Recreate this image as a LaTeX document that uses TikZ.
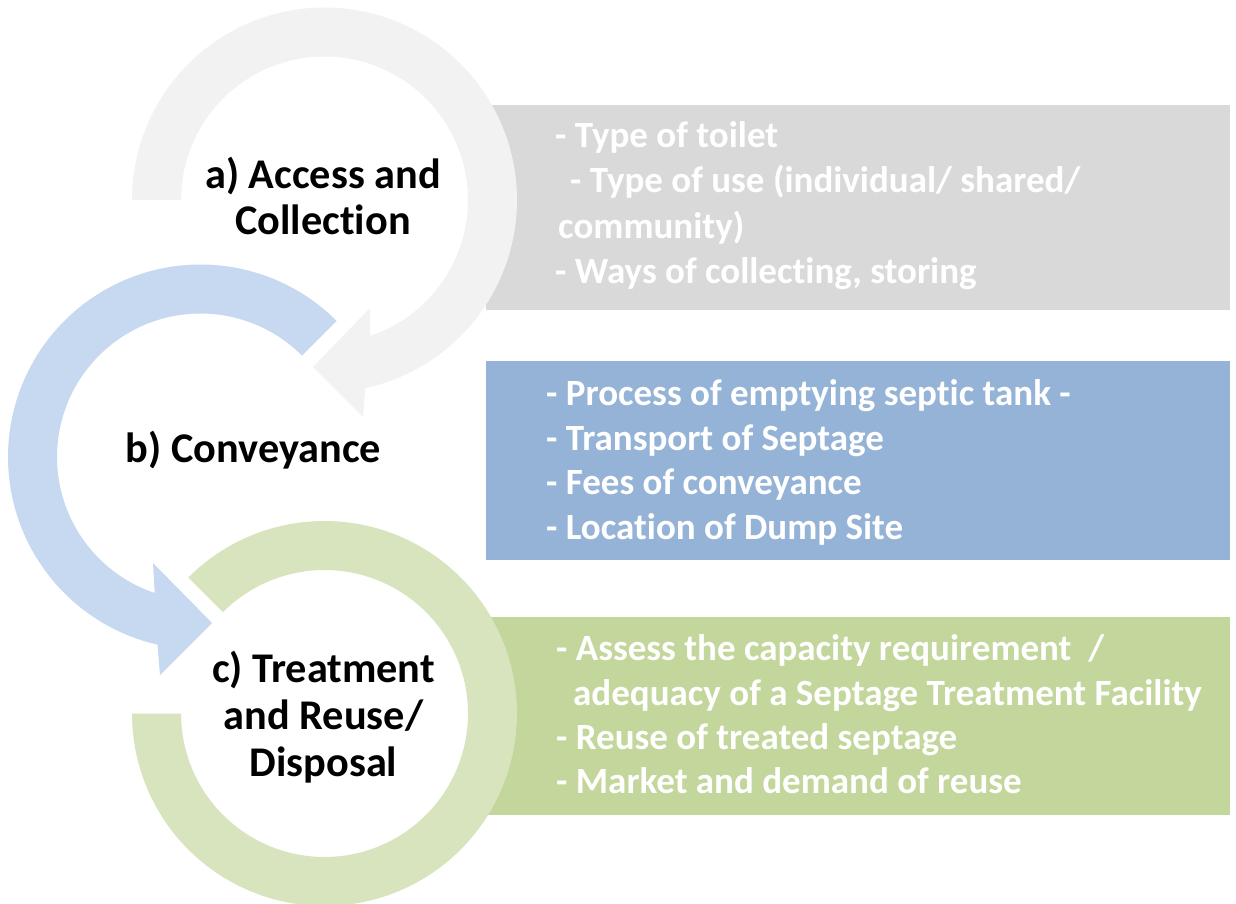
\documentclass[tikz,border=0pt]{standalone}
\usepackage{fontspec}
\setmainfont{Carlito}[RawFeature={-liga;-clig;-dlig;-rlig;-calt}]
\definecolor{grayring}{HTML}{F2F2F2}
\definecolor{graybox}{HTML}{D9D9D9}
\definecolor{bluering}{HTML}{C6D9F1}
\definecolor{bluebox}{HTML}{95B3D7}
\definecolor{greenring}{HTML}{D7E4BD}
\definecolor{greenbox}{HTML}{C3D69B}
\begin{document}
\begin{tikzpicture}[x=1pt,y=-1pt,
  box/.style={anchor=north west,minimum width=744pt,minimum height=205pt,inner sep=0pt,draw=none},
  boxtext/.style={anchor=base west,inner sep=0pt,text=white,font=\bfseries\fontsize{37}{45}\selectfont},
  label/.style={anchor=base,inner sep=0pt,text=black,font=\bfseries\fontsize{42.3}{46}\selectfont}]
\useasboundingbox (0,0) rectangle (1236,904);
\fill[white] (0,0) rectangle (1236,904);
% boxes
\node[box,fill=graybox] (boxA) at (486,105) {};
\node[box,fill=bluebox,minimum height=199pt] (boxB) at (486,361) {};
\node[box,fill=greenbox,minimum height=198pt] (boxC) at (486,617) {};
% rings
\fill[grayring] plot[domain=180:437.8,samples=150] ({324.5+192.5*cos(\x)},{200+192.5*sin(\x)})
  -- (363,417) -- (313,367) -- (370,308)
  -- plot[domain=431.4:180,samples=150] ({324.5+143.5*cos(\x)},{200+143.5*sin(\x)}) -- cycle;
\fill[bluering] plot[domain=-45:-257.1,samples=150] ({200.5+192.5*cos(\x)},{457+192.5*sin(\x)})
  -- (160,675) -- (212,623) -- (153,563)
  -- plot[domain=-251.4:-45,samples=150] ({200.5+143.5*cos(\x)},{457+143.5*sin(\x)}) -- cycle;
\fill[greenring] plot[domain=225:540,samples=150] ({324.5+192.5*cos(\x)},{713.5+192.5*sin(\x)})
  -- plot[domain=540:225,samples=150] ({324.5+143.5*cos(\x)},{713.5+143.5*sin(\x)}) -- cycle;
% labels
\node[label] (la1) at (323,189) {a) Access and};
\node[label] (la2) at (323,234) {Collection};
\node[label] (lb1) at (253.5,462) {b) Conveyance};
\node[label] (lc1) at (323.5,682) {c) Treatment};
\node[label] (lc2) at (323.5,729) {and Reuse/};
\node[label] (lc3) at (323.5,776) {Disposal};
% box texts
\node[boxtext] (ta1) at (555,148) {- Type of toilet};
\node[boxtext] (ta2) at (570,193) {- Type of use (individual/ shared/};
\node[boxtext] (ta3) at (558,238) {community)};
\node[boxtext] (ta4) at (555,283) {- Ways of collecting, storing};
\node[boxtext] (tb1) at (546,405) {- Process of emptying septic tank -};
\node[boxtext] (tb2) at (546,450) {- Transport of Septage};
\node[boxtext] (tb3) at (546,494) {- Fees of conveyance};
\node[boxtext] (tb4) at (546,539) {- Location of Dump Site};
\node[boxtext] (tc1) at (556,660) {- Assess the capacity requirement~~/};
\node[boxtext] (tc2) at (573,705) {adequacy of a Septage Treatment Facility};
\node[boxtext] (tc3) at (556,749) {- Reuse of treated septage};
\node[boxtext] (tc4) at (556,793) {- Market and demand of reuse};
\end{tikzpicture}
\end{document}
